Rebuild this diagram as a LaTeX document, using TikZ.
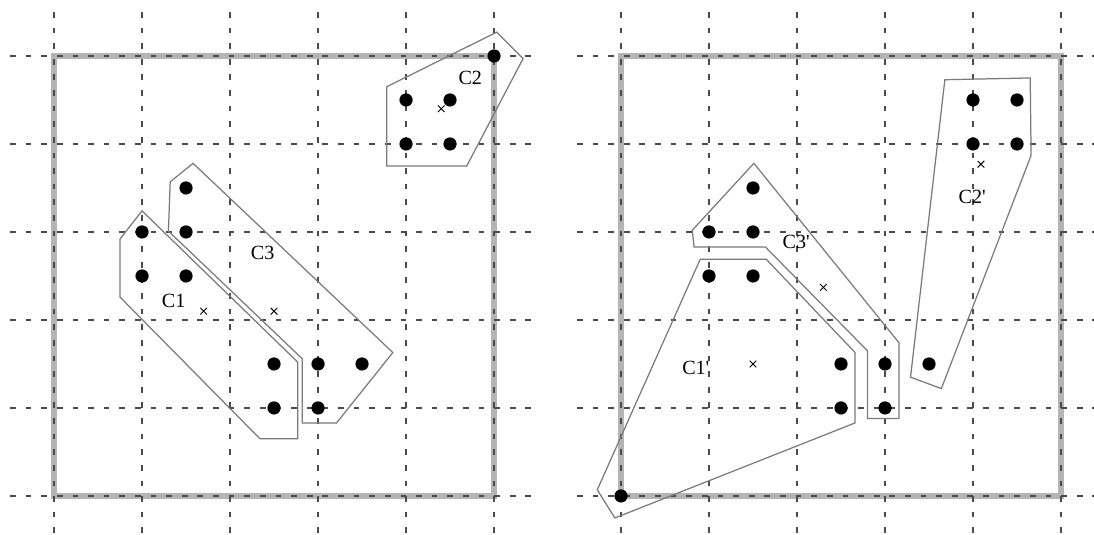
\documentclass[tikz,border=0pt]{standalone}
\usepackage{fontspec}
\setmainfont{Liberation Serif}
\usetikzlibrary{shapes.misc}
\definecolor{boxgray}{HTML}{B4B4B4}
\definecolor{hullgray}{HTML}{7A7A7A}
\definecolor{gridgray}{HTML}{4A4A4A}
\tikzset{
  gridline/.style={draw=gridgray, line width=0.42pt, dash pattern=on 1.85pt off 3.2pt},
  boxline/.style={draw=boxgray, line width=2.1pt},
  hull/.style={draw=hullgray, line width=0.4pt, line join=miter},
  dot/.style={circle, fill=black, inner sep=0pt, minimum size=0.15cm},
  centroid/.style={cross out, draw=black, line width=0.3pt, inner sep=0pt, minimum size=0.065cm},
  lbl/.style={inner sep=0pt, font=\fontsize{6.5}{7.5}\selectfont}
}
\begin{document}
\begin{tikzpicture}
\useasboundingbox (-0.614,-0.443) rectangle (11.818,5.636);
\clip (-0.614,-0.443) rectangle (11.818,5.636);
% ---------- left panel ----------
\begin{scope}
  \draw[boxline] (0,0) rectangle (5,5);
  \foreach \i in {0,...,5} {
    \draw[gridline] (\i,5.5) -- (\i,-0.5);
    \draw[gridline] (-0.5,\i) -- (5.5,\i);
  }
  \draw[hull] (1.0,3.24) -- (0.75,2.92) -- (0.75,2.26) -- (2.34,0.65) -- (2.77,0.65) -- (2.77,1.52) -- cycle;
  \draw[hull] (1.58,3.78) -- (3.85,1.63) -- (3.21,0.83) -- (2.82,0.83) -- (2.82,1.56) -- (1.30,3.01) -- (1.32,3.57) -- cycle;
  \draw[hull] (3.78,4.65) -- (5.03,5.27) -- (5.33,4.97) -- (4.69,3.75) -- (3.78,3.75) -- cycle;
  \node[dot] (l1) at (1.5,3.5) {};
  \node[dot] (l2) at (1,3) {};
  \node[dot] (l3) at (1.5,3) {};
  \node[dot] (l4) at (1,2.5) {};
  \node[dot] (l5) at (1.5,2.5) {};
  \node[dot] (l6) at (2.5,1.5) {};
  \node[dot] (l7) at (3,1.5) {};
  \node[dot] (l8) at (3.5,1.5) {};
  \node[dot] (l9) at (2.5,1) {};
  \node[dot] (l10) at (3,1) {};
  \node[dot] (l11) at (4,4.5) {};
  \node[dot] (l12) at (4.5,4.5) {};
  \node[dot] (l13) at (4,4) {};
  \node[dot] (l14) at (4.5,4) {};
  \node[dot] (l15) at (5,5) {};
  \node[centroid] (lc1) at (1.7,2.1) {};
  \node[centroid] (lc3) at (2.5,2.1) {};
  \node[centroid] (lc2) at (4.4,4.4) {};
  \node[lbl] (lt1) at (1.36,2.22) {C1};
  \node[lbl] (lt3) at (2.37,2.76) {C3};
  \node[lbl] (lt2) at (4.73,4.75) {C2};
\end{scope}
% ---------- right panel ----------
\begin{scope}[xshift=6.443cm]
  \draw[boxline] (0,0) rectangle (5,5);
  \foreach \i in {0,...,5} {
    \draw[gridline] (\i,5.5) -- (\i,-0.5);
    \draw[gridline] (-0.5,\i) -- (5.5,\i);
  }
  \draw[hull] (0.90,2.69) -- (1.65,2.69) -- (2.66,1.63) -- (2.66,0.83) -- (-0.07,-0.25) -- (-0.27,0.07) -- cycle;
  \draw[hull] (1.51,3.78) -- (3.16,1.74) -- (3.16,0.88) -- (2.80,0.88) -- (2.80,1.65) -- (1.64,2.83) -- (0.83,2.83) -- (0.81,3.02) -- cycle;
  \draw[hull] (3.68,4.73) -- (4.65,4.75) -- (4.66,3.87) -- (3.64,1.22) -- (3.29,1.35) -- cycle;
  \node[dot] (r1) at (1.5,3.5) {};
  \node[dot] (r2) at (1,3) {};
  \node[dot] (r3) at (1.5,3) {};
  \node[dot] (r4) at (1,2.5) {};
  \node[dot] (r5) at (1.5,2.5) {};
  \node[dot] (r6) at (2.5,1.5) {};
  \node[dot] (r7) at (3,1.5) {};
  \node[dot] (r8) at (3.5,1.5) {};
  \node[dot] (r9) at (2.5,1) {};
  \node[dot] (r10) at (3,1) {};
  \node[dot] (r11) at (4,4.5) {};
  \node[dot] (r12) at (4.5,4.5) {};
  \node[dot] (r13) at (4,4) {};
  \node[dot] (r14) at (4.5,4) {};
  \node[dot] (r15) at (0,0) {};
  \node[centroid] (rc1) at (1.5,1.5) {};
  \node[centroid] (rc3) at (2.3,2.37) {};
  \node[centroid] (rc2) at (4.09,3.77) {};
  \node[lbl] (rt1) at (0.85,1.46) {C1\textquotesingle};
  \node[lbl] (rt3) at (1.99,2.89) {C3\textquotesingle};
  \node[lbl] (rt2) at (3.99,3.40) {C2\textquotesingle};
\end{scope}
\end{tikzpicture}
\end{document}
